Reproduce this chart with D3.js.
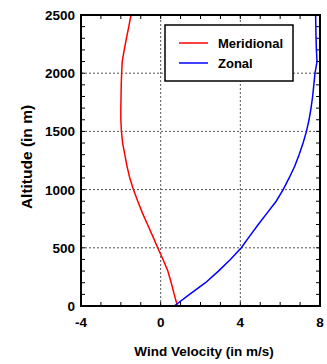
<!DOCTYPE html>
<html>
<head>
<meta charset="utf-8">
<script src="https://cdn.jsdelivr.net/npm/d3@7"></script>
<style>
  body { margin: 0; background: #fff; }
  text { font-family: "Liberation Sans", Arial, sans-serif; font-weight: bold; }
</style>
</head>
<body>
<svg id="chart" width="327" height="364"></svg>
<script>
// altitude levels (m)
const altitudes = [0, 100, 200, 300, 400, 500, 600, 700, 800, 900, 1000, 1100, 1200,
  1300, 1400, 1500, 1600, 1700, 1800, 1900, 2000, 2100, 2200, 2300, 2400, 2500]
// wind components (m/s)
const meridional = [0.84, 0.68, 0.53, 0.36, 0.12, -0.15, -0.4, -0.66, -0.92, -1.15, -1.37,
  -1.55, -1.69, -1.8, -1.91, -1.97, -2.0, -2.0, -1.99, -1.98, -1.96, -1.93, -1.83, -1.72, -1.6, -1.49]
const zonal = [0.68, 1.45, 2.25, 2.9, 3.5, 4.05, 4.47, 4.9, 5.35, 5.8, 6.15, 6.45, 6.73,
  6.95, 7.15, 7.32, 7.45, 7.55, 7.63, 7.69, 7.75, 7.85, 7.82, 7.8, 7.79, 7.78]

const xTicks = [-4, 0, 4, 8]
const yTicks = [0, 500, 1000, 1500, 2000, 2500]
const seriesNames = ["Meridional", "Zonal"]
const seriesColors = ["#ff0000", "#0000ff"]

const W = 327, H = 364
const margin = {top: 15, right: 7, bottom: 58, left: 81}

const svg = d3.select("#chart")

const x = d3.scaleLinear().domain([-4, 8]).range([margin.left, W - margin.right])
const y = d3.scaleLinear().domain([0, 2500]).range([H - margin.bottom, margin.top])

// dotted grid (inner lines only)
svg.append("g")
  .selectAll("line")
  .data(xTicks.slice(1, -1))
  .enter()
  .append("line")
  .attr("x1", d => x(d)).attr("x2", d => x(d))
  .attr("y1", y(0)).attr("y2", y(2500))
  .attr("stroke", "#555").attr("stroke-width", 1).attr("stroke-dasharray", "2,2")

svg.append("g")
  .selectAll("line")
  .data(yTicks.slice(1, -1))
  .enter()
  .append("line")
  .attr("y1", d => y(d)).attr("y2", d => y(d))
  .attr("x1", x(-4)).attr("x2", x(8))
  .attr("stroke", "#555").attr("stroke-width", 1).attr("stroke-dasharray", "2,2")

// inward minor/major ticks on all four sides
const tickLen = 4
const xMinor = d3.range(-4, 8.01, 1)
const yMinor = d3.range(0, 2500.1, 100)

const ticks = svg.append("g").attr("stroke", "black").attr("stroke-width", 1)
xMinor.forEach(function(v) {
  ticks.append("line").attr("x1", x(v)).attr("x2", x(v)).attr("y1", y(0)).attr("y2", y(0) - tickLen)
  ticks.append("line").attr("x1", x(v)).attr("x2", x(v)).attr("y1", y(2500)).attr("y2", y(2500) + tickLen)
})
yMinor.forEach(function(v) {
  ticks.append("line").attr("y1", y(v)).attr("y2", y(v)).attr("x1", x(-4)).attr("x2", x(-4) + tickLen)
  ticks.append("line").attr("y1", y(v)).attr("y2", y(v)).attr("x1", x(8)).attr("x2", x(8) - tickLen)
})

// series
const line = d3.line()
  .x(d => x(d.v))
  .y(d => y(d.alt))

const series = [meridional, zonal].map(function(vals) {
  return vals.map((v, i) => ({v: v, alt: altitudes[i]}))
})

svg.append("g")
  .selectAll("path")
  .data(series)
  .enter()
  .append("path")
  .attr("d", line)
  .attr("fill", "none")
  .attr("stroke", (d, i) => seriesColors[i])
  .attr("stroke-width", 1.5)

// frame
svg.append("rect")
  .attr("x", x(-4)).attr("y", y(2500))
  .attr("width", x(8) - x(-4)).attr("height", y(0) - y(2500))
  .attr("fill", "none").attr("stroke", "black").attr("stroke-width", 2)

// tick labels
svg.append("g")
  .selectAll("text")
  .data(xTicks)
  .enter()
  .append("text")
  .attr("x", d => x(d))
  .attr("y", y(0) + 21)
  .attr("text-anchor", "middle")
  .style("font-size", "13.5px")
  .text(d => d)

svg.append("g")
  .selectAll("text")
  .data(yTicks)
  .enter()
  .append("text")
  .attr("x", x(-4) - 6)
  .attr("y", d => y(d) + 5)
  .attr("text-anchor", "end")
  .style("font-size", "13.5px")
  .text(d => d)

// axis titles
svg.append("text")
  .attr("x", 204).attr("y", 356)
  .attr("text-anchor", "middle")
  .style("font-size", "13.5px")
  .text("Wind Velocity (in m/s)")

svg.append("text")
  .attr("transform", "translate(32,157) rotate(-90)")
  .attr("text-anchor", "middle")
  .style("font-size", "15.5px")
  .text("Altitude (in m)")

// legend
const legend = svg.append("g")
legend.append("rect")
  .attr("x", 165).attr("y", 25).attr("width", 128).attr("height", 56)
  .attr("fill", "white").attr("stroke", "black").attr("stroke-width", 1.5)

seriesNames.forEach(function(name, i) {
  legend.append("line")
    .attr("x1", 179).attr("x2", 208)
    .attr("y1", 43 + i * 20).attr("y2", 43 + i * 20)
    .attr("stroke", seriesColors[i]).attr("stroke-width", 1.5)
  legend.append("text")
    .attr("x", 218).attr("y", 48 + i * 20)
    .style("font-size", "13px")
    .text(name)
})
</script>
</body>
</html>
